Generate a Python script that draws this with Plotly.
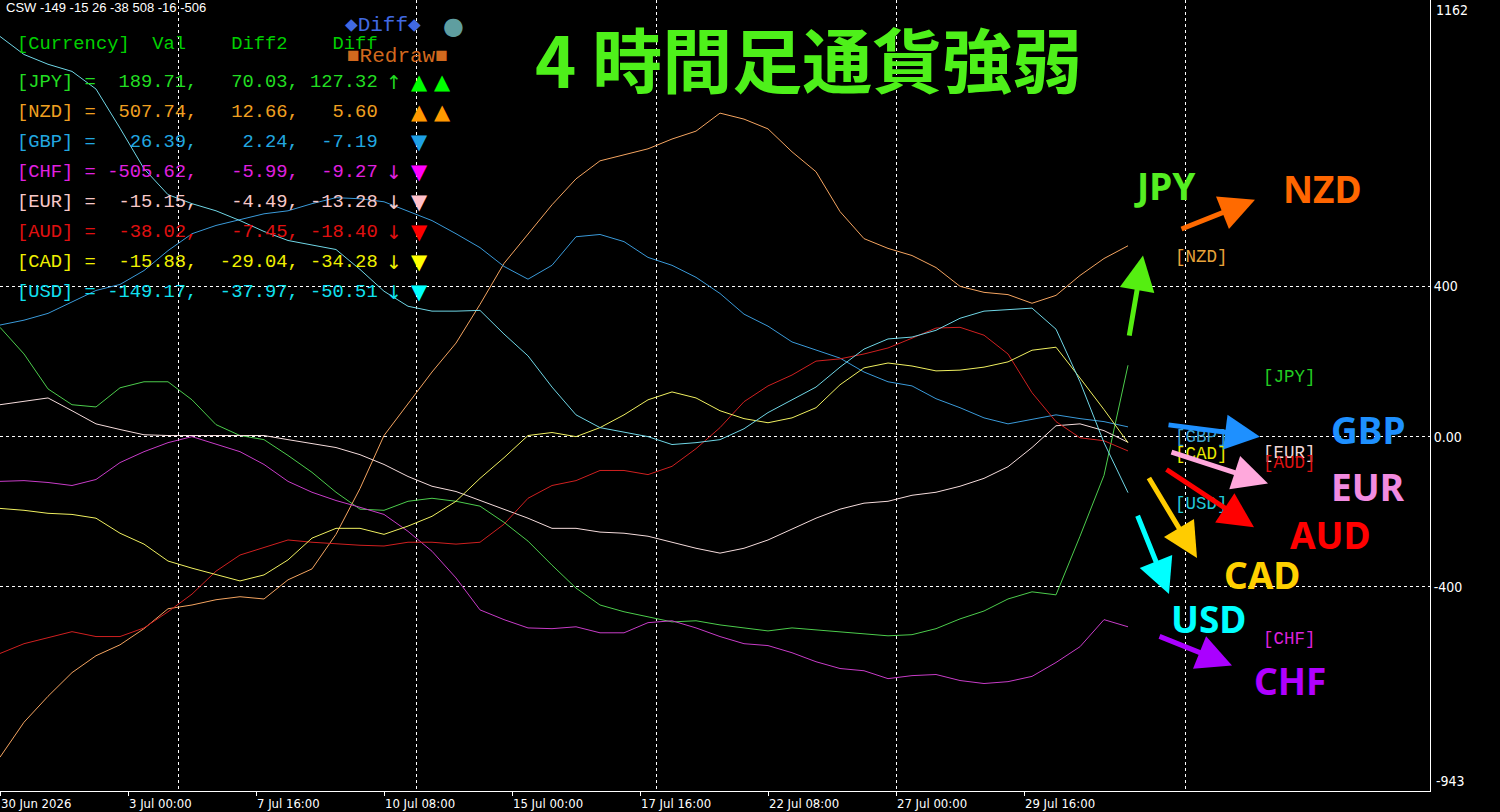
import plotly.graph_objects as go

# 4h bars, one sample every 3 bars
bars = list(range(0, 142, 3))

currencies = ["JPY", "NZD", "GBP", "CHF", "EUR", "AUD", "CAD", "USD"]

jpy = [291, 220, 127, 85, 79, 130, 146, 146, 98, 32, 3, -8, -50, -95, -148, -193,
       -196, -172, -164, -172, -185, -228, -278, -342, -403, -448, -466, -479, -493, -490,
       -501, -509, -517, -509, -514, -519, -525, -530, -527, -511, -485, -464, -432, -413,
       -421, -265, -103, 190]
nzd = [-853, -760, -691, -628, -583, -554, -511, -458, -448, -434, -426, -432, -381, -352,
       -260, -138, 3, 87, 172, 249, 352, 461, 540, 617, 686, 734, 750, 766, 792, 813,
       861, 845, 819, 758, 705, 599, 527, 501, 482, 450, 400, 384, 378, 355, 376, 429, 474, 508]
gbp = [297, 310, 328, 358, 389, 405, 442, 495, 540, 562, 577, 593, 601, 620, 636, 633,
       625, 601, 575, 540, 503, 453, 419, 456, 532, 538, 519, 477, 456, 424, 381, 326,
       294, 252, 230, 209, 172, 146, 135, 101, 77, 50, 34, 45, 58, 48, 40, 26]
chf = [-119, -117, -122, -130, -114, -69, -40, -16, 0, -19, -40, -74, -119, -148, -170,
       -188, -207, -252, -305, -376, -461, -487, -509, -511, -506, -522, -522, -495, -490,
       -509, -532, -551, -556, -575, -599, -617, -623, -644, -636, -633, -649, -657, -652,
       -638, -601, -559, -487, -506]
eur = [85, 95, 103, 69, 34, 19, 5, 3, 3, 5, 5, 3, -8, -19, -29, -48, -74, -106, -132,
       -146, -170, -193, -217, -244, -244, -254, -257, -265, -281, -297, -310, -297, -275,
       -246, -217, -193, -177, -172, -156, -148, -132, -111, -80, -29, 29, 34, 16, -15]
aud = [-577, -551, -535, -519, -532, -532, -509, -466, -419, -358, -315, -294, -275, -281,
       -286, -289, -291, -281, -281, -286, -281, -233, -164, -130, -117, -90, -90, -101,
       -79, -32, 24, 93, 135, 164, 201, 207, 220, 236, 262, 289, 291, 270, 220, 117, 40,
       -3, -11, -38]
cad = [-191, -196, -204, -207, -217, -257, -286, -331, -350, -366, -384, -368, -328, -270,
       -244, -244, -260, -238, -212, -172, -111, -56, 3, 11, 0, 24, 58, 98, 119, 103, 69,
       48, 37, 50, 77, 138, 183, 196, 188, 175, 177, 185, 199, 230, 238, 156, 72, -16]
usd = [1065, 1017, 991, 972, 925, 821, 713, 644, 620, 601, 575, 546, 522, 511, 498, 445,
       387, 347, 334, 334, 336, 273, 215, 132, 58, 24, 13, 0, -21, -16, -8, 21, 64, 98,
       132, 185, 233, 260, 265, 283, 315, 334, 339, 342, 286, 146, -16, -149]

# table at top left
val = [189.71, 507.74, 26.39, -505.62, -15.15, -38.02, -15.88, -149.17]
diff2 = [70.03, 12.66, 2.24, -5.99, -4.49, -7.45, -29.04, -37.97]
diff = [127.32, 5.60, -7.19, -9.27, -13.28, -18.40, -34.28, -50.51]
arrow_sym = ["↑", "", "", "↓", "↓", "↓", "↓", "↓"]
tri_sym = ["▲▲", "▲▲", "▼", "▼", "▼", "▼", "▼", "▼"]

tick_bars = [0, 16, 32, 48, 64, 80, 96, 112, 128]
tick_labels = ["30 Jun 2026", "3 Jul 00:00", "7 Jul 16:00", "10 Jul 08:00", "15 Jul 00:00",
               "17 Jul 16:00", "22 Jul 08:00", "27 Jul 00:00", "29 Jul 16:00"]
grid_bars = [22.25, 52.1, 82.1, 112.1, 148.2]

line_colors = ["#4ccc4c", "#f4a460", "#3a9ad9", "#c83cc8", "#f5dcdc", "#d02020", "#f0f060", "#6fd6e6"]
text_colors = ["#22dd22", "#f0a020", "#22a8e0", "#e020e0", "#f8c8c8", "#e01010", "#f0f000", "#10e0f0"]
tri_colors = ["#00ff00", "#ff9900", "#1ea0e6", "#ff00ff", "#ffc0cb", "#ff0000", "#ffff00", "#00ffff"]

PW, PH = 1430, 791


def px(x, y):
    return x / PW, 1 - y / PH


def to_data(x, y):
    # pixel in plot area -> (bar, value)
    return x / 8, (435 - y) * 2.649


fig = go.Figure()
series = [jpy, nzd, gbp, chf, eur, aud, cad, usd]
for name, ys, col in zip(currencies, series, line_colors):
    fig.add_trace(go.Scatter(x=bars, y=ys, mode="lines", name=name,
                             line=dict(color=col, width=1), hoverinfo="skip"))

mono = "Liberation Mono, DejaVu Sans Mono, monospace"
ann = []

ann.append(dict(x=0.003, y=1 - 8 / PH, xref="paper", yref="paper", text="CSW -149 -15 26 -38 508 -16 -506",
                showarrow=False, xanchor="left", yanchor="middle",
                font=dict(family="Liberation Sans, Arial, sans-serif", size=13, color="white")))

hx, hy = px(15, 44)
ann.append(dict(x=hx, y=hy, xref="paper", yref="paper",
                text="[Currency]  Val    Diff2    Diff".replace(" ", "\u00a0"),
                showarrow=False, xanchor="left", yanchor="middle",
                font=dict(family=mono, size=18.8, color="#00d000")))

bx, by = px(343, 26)
ann.append(dict(x=bx, y=by, xref="paper", yref="paper", text="◆Diff◆", showarrow=False,
                xanchor="left", yanchor="middle", font=dict(family=mono, size=21, color="#4169e1")))
bx, by = px(453, 26)
ann.append(dict(x=bx, y=by, xref="paper", yref="paper", text="●", showarrow=False,
                xanchor="center", yanchor="middle", font=dict(family="DejaVu Sans", size=24, color="#5f9ea0")))
bx, by = px(345, 56)
ann.append(dict(x=bx, y=by, xref="paper", yref="paper", text="■Redraw■", showarrow=False,
                xanchor="left", yanchor="middle", font=dict(family=mono, size=21, color="#d2691e")))

row_y = [82, 112, 142, 172, 202, 232, 262, 292]
for i, c in enumerate(currencies):
    row = f"[{c}] = {val[i]:>7.2f}, {diff2[i]:>7.2f}, {diff[i]:>6.2f}".replace(" ", "\u00a0")
    rx, ry = px(15, row_y[i])
    ann.append(dict(x=rx, y=ry, xref="paper", yref="paper", text=row, showarrow=False,
                    xanchor="left", yanchor="middle", font=dict(family=mono, size=18.8, color=text_colors[i])))
    if arrow_sym[i]:
        ax_, ay_ = px(394, row_y[i])
        ann.append(dict(x=ax_, y=ay_, xref="paper", yref="paper", text=arrow_sym[i], showarrow=False,
                        xanchor="center", yanchor="middle",
                        font=dict(family="DejaVu Sans", size=19, color=text_colors[i])))
    for k, t in enumerate(tri_sym[i]):
        tx, ty = px(419 + 24 * k, row_y[i])
        ann.append(dict(x=tx, y=ty, xref="paper", yref="paper", text=t, showarrow=False,
                        xanchor="center", yanchor="middle",
                        font=dict(family="DejaVu Sans", size=21, color=tri_colors[i])))

tx, ty = px(808, 58)
ann.append(dict(x=tx, y=ty, xref="paper", yref="paper", text="<b>4 時間足通貨強弱</b>", showarrow=False,
                xanchor="center", yanchor="middle",
                font=dict(family="Noto Sans CJK JP", size=70, color="#4ef01a")))

# bracket tags on the right
tags = [("[NZD]", 1201, 255, "#e8a33a"), ("[JPY]", 1289, 375, "#22cc22"),
        ("[GBP]", 1201, 435, "#3aa0d0"), ("[CAD]", 1201, 452, "#e8e800"),
        ("[EUR]", 1289, 451, "#f0d8d8"), ("[AUD]", 1289, 461, "#dd1111"),
        ("[USD]", 1201, 503, "#22c8d8"), ("[CHF]", 1289, 638, "#dd22dd")]
for t, x, y, col in tags:
    dx, dy = to_data(x, y)
    ann.append(dict(x=dx, y=dy, text=t, showarrow=False, xanchor="center", yanchor="middle",
                    font=dict(family=mono, size=17.5, color=col)))

# arrows: (tail px, tip px)
arrows = [("#55ee11", (1129, 335), (1143, 253)), ("#ff6a00", (1180, 227), (1255, 197)),
          ("#1e90ff", (1167, 423), (1260, 435)), ("#ffa8dc", (1170, 450), (1268, 482)),
          ("#ff0000", (1165, 467), (1254, 526)), ("#ffcc00", (1148, 475), (1197, 557)),
          ("#00ffff", (1137, 513), (1169, 593)), ("#aa00ff", (1158, 635), (1232, 665))]
for col, tail, tip in arrows:
    x0, y0 = to_data(*tail)
    x1, y1 = to_data(*tip)
    ann.append(dict(x=x1, y=y1, ax=x0, ay=y0, axref="x", ayref="y", text="", showarrow=True,
                    arrowhead=2, arrowsize=1.4, arrowwidth=5, arrowcolor=col, standoff=0))

labels = [("JPY", 1165, 183, "#55ee22"), ("NZD", 1322, 186, "#ff6600"), ("GBP", 1368, 428, "#1e90ff"),
          ("EUR", 1368, 485, "#f28be0"), ("AUD", 1330, 533, "#ff0000"), ("CAD", 1262, 573, "#ffd000"),
          ("USD", 1208, 618, "#00ffff"), ("CHF", 1290, 680, "#b000ff")]
for t, x, y, col in labels:
    dx, dy = to_data(x, y)
    ann.append(dict(x=dx, y=dy, text=f"<b>{t}</b>", showarrow=False, xanchor="center", yanchor="middle",
                    font=dict(family="Noto Sans, Open Sans, sans-serif", size=37, color=col)))

axis_font = dict(family="Liberation Sans Narrow, DejaVu Sans Condensed, Liberation Sans, sans-serif",
                 size=13, color="white")
ann.append(dict(x=1, y=1, xref="paper", yref="paper", text="1162", showarrow=False,
                xanchor="left", yanchor="top", xshift=4, font=dict(axis_font, size=14)))
ann.append(dict(x=1, y=0, xref="paper", yref="paper", text="-943", showarrow=False,
                xanchor="left", yanchor="bottom", xshift=4, font=dict(axis_font, size=14)))

fig.update_layout(
    width=1500, height=812,
    paper_bgcolor="black", plot_bgcolor="black",
    margin=dict(l=0, r=70, t=0, b=21),
    showlegend=False,
    annotations=ann,
    xaxis=dict(range=[0, 178.75], tickvals=tick_bars, ticktext=tick_labels,
               ticks="outside", ticklen=4, tickcolor="white", ticklabelposition="outside right",
               tickfont=axis_font, showline=True, linecolor="white", linewidth=1,
               showgrid=False, zeroline=False,
               minor=dict(tickmode="array", tickvals=grid_bars, showgrid=True, gridcolor="white",
                          griddash="3px,3px", gridwidth=1, ticks="")),
    yaxis=dict(range=[-943, 1162], side="right", tickvals=[400, 0, -400],
               ticktext=["400", "0.00", "-400"], tickfont=dict(axis_font, size=14),
               showgrid=True, gridcolor="white", griddash="3px,3px", gridwidth=1,
               zeroline=False, showline=True, linecolor="white", linewidth=1, ticks=""),
)

fig.write_html("out.html", config={"displayModeBar": False},
               post_script="document.body.style.margin='0';document.body.style.background='black';")
